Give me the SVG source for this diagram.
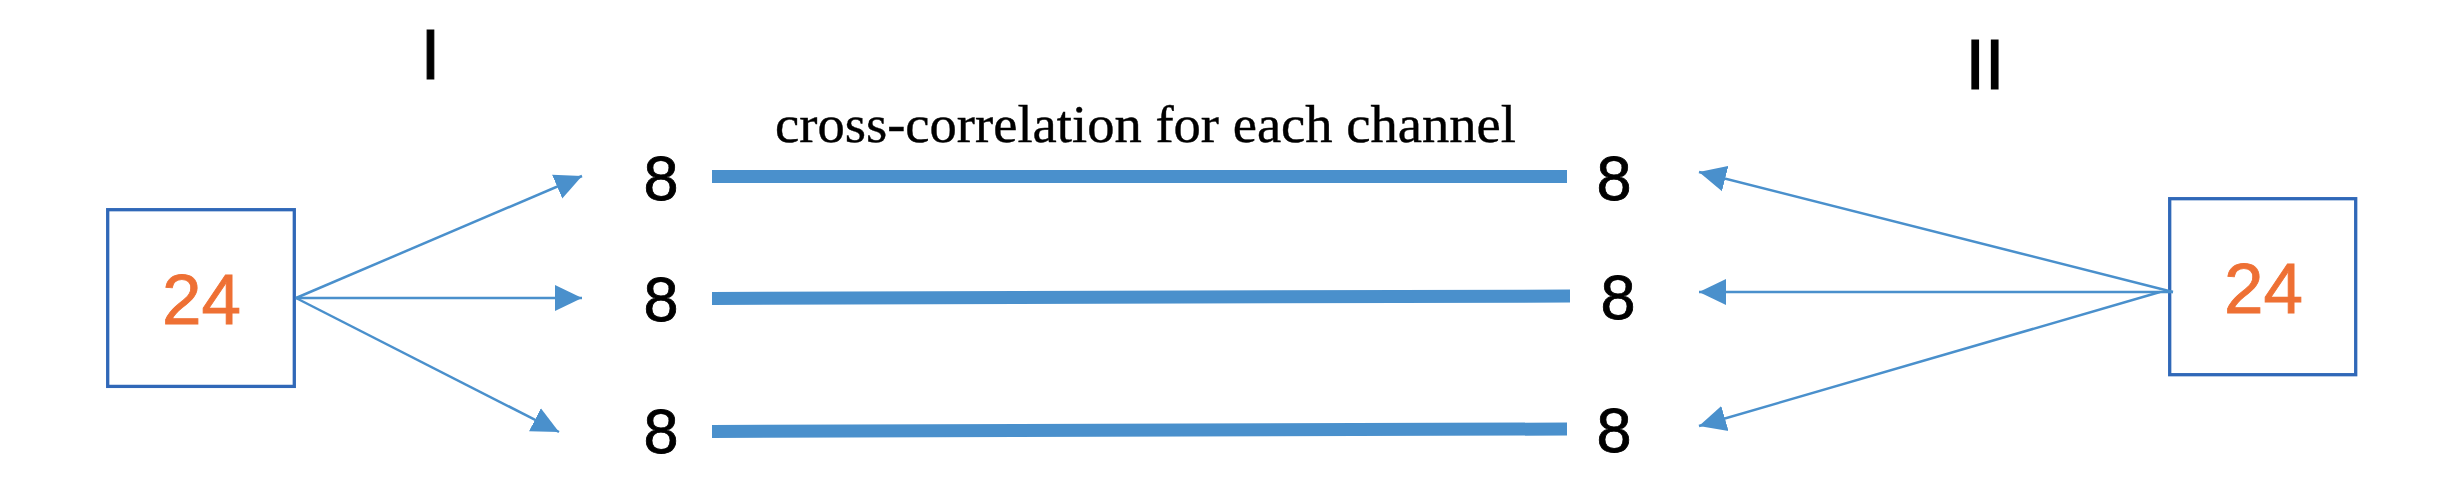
<svg xmlns="http://www.w3.org/2000/svg" width="2444" height="496" viewBox="0 0 2444 496">
<style>
.box{fill:#fff;stroke:#3068B8;stroke-width:3.3}
.num24{font-family:"Liberation Sans",Arial,sans-serif;font-size:71px;fill:#EE7034;stroke:#EE7034;stroke-width:0.8;text-anchor:middle}
.eight{font-family:"Liberation Sans",Arial,sans-serif;font-size:63px;fill:#000;stroke:#000;stroke-width:0.8;text-anchor:middle}
.roman{font-family:"Liberation Sans",Arial,sans-serif;font-size:70px;fill:#000;stroke:#000;stroke-width:1.2;text-anchor:middle}
.title{font-family:"Liberation Serif","Times New Roman",serif;font-size:52px;fill:#000;stroke:#000;stroke-width:0.4}
.arrow{stroke:#4A90CC;stroke-width:2.5;fill:none;marker-end:url(#ah)}
.thick{stroke:#4A90CC;stroke-width:13;fill:none}
</style>
<defs>
<marker id="ah" markerUnits="userSpaceOnUse" markerWidth="28" markerHeight="28" viewBox="0 0 28 28" refX="27" refY="14" orient="auto">
<path d="M0,1 L27,14 L0,27 Z" fill="#4A90CC"/>
</marker>
</defs>
<rect width="2444" height="496" fill="#fff"/>
<g id="label-I"><text class="roman" x="430.5" y="79">I</text></g>
<g id="label-II"><text class="roman" x="1985" y="89">II</text></g>
<g id="title"><text class="title" x="775" y="142" textLength="741" lengthAdjust="spacingAndGlyphs">cross-correlation for each channel</text></g>
<g id="box-left"><rect class="box" x="107.7" y="209.7" width="186.6" height="176.7"/><text class="num24" x="201.5" y="324">24</text></g>
<g id="box-right"><rect class="box" x="2169.7" y="198.7" width="186" height="176"/><text class="num24" x="2263.5" y="313">24</text></g>
<g id="left-8-1"><text class="eight" x="661" y="200">8</text></g>
<g id="left-8-2"><text class="eight" x="661" y="321">8</text></g>
<g id="left-8-3"><text class="eight" x="661" y="453">8</text></g>
<g id="right-8-1"><text class="eight" x="1614" y="200">8</text></g>
<g id="right-8-2"><text class="eight" x="1618" y="319">8</text></g>
<g id="right-8-3"><text class="eight" x="1614" y="452">8</text></g>
<g id="connectors">
<line class="arrow" x1="296" y1="298" x2="582" y2="176"/>
<line class="arrow" x1="296" y1="298" x2="582" y2="298"/>
<line class="arrow" x1="296" y1="298" x2="559" y2="432"/>
<line class="arrow" x1="2173" y1="292" x2="1699" y2="172"/>
<line class="arrow" x1="2173" y1="292" x2="1699" y2="292"/>
<line class="arrow" x1="2160" y1="292" x2="1699" y2="426"/>
<line class="thick" x1="712" y1="176.5" x2="1567" y2="176.5"/>
<line class="thick" x1="712" y1="298.5" x2="1570" y2="296"/>
<line class="thick" x1="712" y1="431.5" x2="1567" y2="429"/>
</g>
</svg>
